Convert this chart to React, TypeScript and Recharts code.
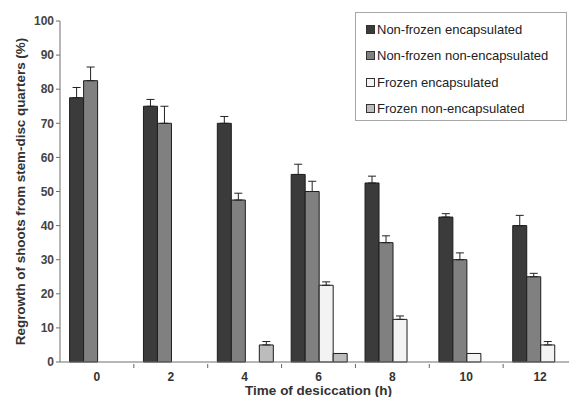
import React from 'react';
import {
  BarChart,
  Bar,
  XAxis,
  YAxis,
  Legend,
  ErrorBar,
  Label
} from 'recharts';

const hours = ['0', '2', '4', '6', '8', '10', '12'];

const nonFrozenEnc = [77.5, 75, 70, 55, 52.5, 42.5, 40];
const nonFrozenEncErr = [3, 2, 2, 3, 2, 1, 3];

const nonFrozenNon = [82.5, 70, 47.5, 50, 35, 30, 25];
const nonFrozenNonErr = [4, 5, 2, 3, 2, 2, 1];

const frozenEnc = [null, null, null, 22.5, 12.5, 2.5, 5];
const frozenEncErr = [null, null, null, 1, 1, null, 1];

const frozenNon = [null, null, 5, 2.5, null, null, null];
const frozenNonErr = [null, null, 1, null, null, null, null];

const yTicks = [0, 10, 20, 30, 40, 50, 60, 70, 80, 90, 100];

const series = [
  { key: 'nfEnc', name: 'Non-frozen encapsulated', color: '#3b3b3b' },
  { key: 'nfNon', name: 'Non-frozen non-encapsulated', color: '#808080' },
  { key: 'fEnc', name: 'Frozen encapsulated', color: '#f3f3f3' },
  { key: 'fNon', name: 'Frozen non-encapsulated', color: '#bcbcbc' }
];

const upErr = (e: number | null) => (e == null ? undefined : [0, e]);

const chartData = hours.map((h, i) => ({
  hour: h,
  nfEnc: nonFrozenEnc[i],
  nfEncErr: upErr(nonFrozenEncErr[i]),
  nfNon: nonFrozenNon[i],
  nfNonErr: upErr(nonFrozenNonErr[i]),
  fEnc: frozenEnc[i],
  fEncErr: upErr(frozenEncErr[i]),
  fNon: frozenNon[i],
  fNonErr: upErr(frozenNonErr[i])
}));

const FONT = '"Liberation Sans", Arial, sans-serif';
const CHART_W = 590;
const CHART_H = 397;
const MARGIN = { top: 21, right: 13, left: 0, bottom: 0 };
const Y_W = 60;
const BAND = (CHART_W - MARGIN.left - MARGIN.right - Y_W) / hours.length;
const PLOT_CX = Y_W + (CHART_W - MARGIN.right - Y_W) / 2;

function HourTick(props: any) {
  const { x, y, payload, index } = props;
  return (
    <g>
      {index > 0 && (
        <line x1={x - BAND / 2} x2={x - BAND / 2} y1={y - 6} y2={y - 2} stroke="#666" />
      )}
      <text
        x={x}
        y={y}
        dy={11}
        textAnchor="middle"
        fontFamily={FONT}
        fontSize={12}
        fontWeight="bold"
        fill="#333"
      >
        {payload.value}
      </text>
    </g>
  );
}

function BoxLegend() {
  return (
    <div
      style={{
        border: '1px solid #a6a6a6',
        background: '#fff',
        boxSizing: 'border-box',
        width: 212,
        height: 109,
        paddingTop: 3,
        fontFamily: FONT,
        fontSize: 13,
        color: '#222'
      }}
    >
      {series.map(s => (
        <div key={s.key} style={{ height: 26.5, display: 'flex', alignItems: 'center' }}>
          <span
            style={{
              display: 'inline-block',
              width: 7,
              height: 7,
              marginLeft: 10,
              marginRight: 2,
              background: s.color,
              border: '1px solid #333'
            }}
          />
          <span>{s.name}</span>
        </div>
      ))}
    </div>
  );
}

export default function App() {
  return (
    <div style={{ position: 'absolute', left: 0, top: 0, width: 569, height: 397, overflow: 'hidden', background: '#fff' }}>
      <BarChart
        width={CHART_W}
        height={CHART_H}
        data={chartData}
        margin={MARGIN}
        barCategoryGap="13%"
        barGap={0}
      >
        <XAxis
          dataKey="hour"
          height={35}
          stroke="#6e6e6e"
          tickLine={false}
          tick={<HourTick />}
          interval={0}
        >
          <Label
            content={() => (
              <text
                x={PLOT_CX}
                y={CHART_H - 2}
                textAnchor="middle"
                fontFamily={FONT}
                fontSize={13.5}
                fontWeight="bold"
                fill="#333"
              >
                Time of desiccation (h)
              </text>
            )}
          />
        </XAxis>
        <YAxis
          width={Y_W}
          domain={[0, 100]}
          ticks={yTicks}
          interval={0}
          stroke="#6e6e6e"
          tickSize={4}
          tick={{ fontFamily: FONT, fontSize: 12, fontWeight: 'bold', fill: '#444' }}
        >
          <Label
            content={({ viewBox }: any) => {
              const cx = viewBox.x + 20;
              const cy = viewBox.y + viewBox.height / 2;
              return (
                <text
                  x={cx}
                  y={cy}
                  transform={`rotate(-90, ${cx}, ${cy})`}
                  textAnchor="middle"
                  dominantBaseline="central"
                  fontFamily={FONT}
                  fontSize={13.4}
                  fontWeight="bold"
                  fill="#333"
                >
                  Regrowth of shoots from stem-disc quarters (%)
                </text>
              );
            }}
          />
        </YAxis>
        <Legend
          layout="vertical"
          align="center"
          verticalAlign="middle"
          content={<BoxLegend />}
          wrapperStyle={{ top: 12, left: 355, width: 212 }}
        />
        {series.map(s => (
          <Bar
            key={s.key}
            dataKey={s.key}
            name={s.name}
            fill={s.color}
            stroke="#1e1e1e"
            strokeWidth={1}
            isAnimationActive={false}
          >
            <ErrorBar
              dataKey={`${s.key}Err`}
              direction="y"
              width={4}
              stroke="#222"
              strokeWidth={1}
              isAnimationActive={false}
            />
          </Bar>
        ))}
      </BarChart>
    </div>
  );
}
